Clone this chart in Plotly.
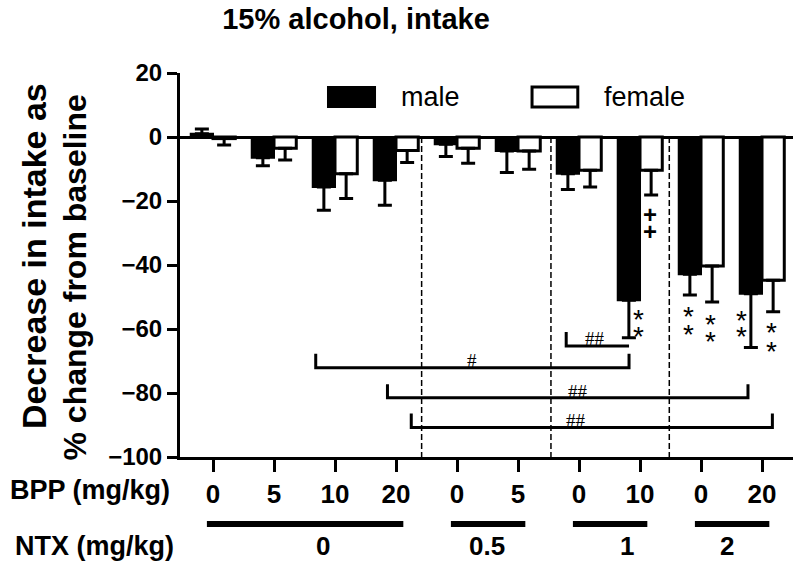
import plotly.graph_objects as go

# ---------------- data ----------------
bpp_labels = ["0", "5", "10", "20", "0", "5", "0", "10", "0", "20"]
ntx_labels = ["0", "0.5", "1", "2"]
ntx_groups = [(0, 3), (4, 5), (6, 7), (8, 9)]

male_vals = [1.0, -6.5, -15.6, -13.5, -2.3, -4.4, -11.5, -51.0, -42.9, -49.0]
male_err = [1.5, 2.5, 7.3, 7.8, 3.8, 6.7, 4.9, 11.7, 6.5, 16.8]
female_vals = [-0.5, -3.5, -11.5, -4.2, -3.5, -4.4, -10.4, -10.4, -40.3, -44.8]
female_err = [2.0, 3.7, 7.7, 3.8, 4.7, 5.7, 5.2, 7.7, 11.3, 9.8]

y_ticks = [20, 0, -20, -40, -60, -80, -100]

# ---------------- layout constants ----------------
FONT = "Liberation Sans, Arial, sans-serif"
SERIF = "Liberation Serif, Times New Roman, serif"
XR = [-0.541, 9.508]
YR = [-100, 20]
BARGAP = 0.27


def x2p(v):
    return (v - XR[0]) / (XR[1] - XR[0])


idx = list(range(len(bpp_labels)))


def err_dict(vals, errs):
    up = [e if v > 0 else 0 for v, e in zip(vals, errs)]
    dn = [e if v <= 0 else 0 for v, e in zip(vals, errs)]
    return dict(type="data", symmetric=False, array=up, arrayminus=dn,
                color="black", thickness=3, width=7)


fig = go.Figure()
fig.add_trace(go.Bar(x=idx, y=male_vals, name="male",
                     marker=dict(color="black", line=dict(color="black", width=2)),
                     error_y=err_dict(male_vals, male_err), showlegend=False))
fig.add_trace(go.Bar(x=idx, y=female_vals, name="female",
                     marker=dict(color="white", line=dict(color="black", width=3)),
                     error_y=err_dict(female_vals, female_err), showlegend=False))

shapes = []
annotations = []

# vertical dashed separators
for xv in [3.42, 5.54, 7.48]:
    shapes.append(dict(type="line", xref="x", yref="y", x0=xv, x1=xv, y0=0, y1=-100,
                       line=dict(color="black", width=1.5, dash="6px,3px")))

# comparison brackets: (x_left, x_right, y_line, tick_height, right_tick)
brackets = [
    (1.684, 6.82, -72.1, 4.4, True),
    (5.79, 6.82, -65.3, 4.4, False),
    (2.86, 8.77, -81.5, 4.2, True),
    (3.25, 9.17, -90.8, 4.4, True),
]
for xl, xr_, yl, th, rt in brackets:
    path = f"M {xl},{yl + th} L {xl},{yl} L {xr_},{yl}"
    if rt:
        path += f" L {xr_},{yl + th}"
    shapes.append(dict(type="path", xref="x", yref="y", path=path,
                       line=dict(color="black", width=3)))

hash_marks = [(4.24, -69.7, "#"), (6.26, -63.1, "##"), (5.98, -79.4, "##"), (5.95, -88.5, "##")]
for xv, yv, t in hash_marks:
    annotations.append(dict(x=xv, y=yv, xref="x", yref="y", text=t, showarrow=False,
                            font=dict(family=SERIF, size=19, color="black"),
                            xanchor="center", yanchor="middle"))

# significance stars
stars = [(6.98, -54.7), (6.98, -60.0), (7.80, -53.75), (7.80, -59.4),
         (8.16, -56.25), (8.16, -61.6), (8.67, -55.0), (8.67, -60.3),
         (9.16, -58.75), (9.16, -64.7)]
for xv, yv in stars:
    annotations.append(dict(x=xv, y=yv, xref="x", yref="y", text="*", showarrow=False,
                            font=dict(family=FONT, size=28, color="black"),
                            xanchor="center", yanchor="middle", yshift=-7))
for yv in [-24.1, -29.4]:
    annotations.append(dict(x=7.16, y=yv, xref="x", yref="y", text="+", showarrow=False,
                            font=dict(family=FONT, size=24, color="black", weight="bold"),
                            xanchor="center", yanchor="middle"))

# legend (drawn)
shapes.append(dict(type="rect", xref="x", yref="y", x0=1.885, x1=2.656, y0=9.4, y1=15.6,
                   fillcolor="black", line=dict(color="black", width=2)))
shapes.append(dict(type="rect", xref="x", yref="y", x0=5.23, x1=5.98, y0=9.4, y1=15.6,
                   fillcolor="white", line=dict(color="black", width=3)))
annotations.append(dict(x=3.05, y=12.5, xref="x", yref="y", text="male", showarrow=False,
                        font=dict(family=FONT, size=27, color="black"),
                        xanchor="left", yanchor="middle"))
annotations.append(dict(x=6.38, y=12.5, xref="x", yref="y", text="female", showarrow=False,
                        font=dict(family=FONT, size=27, color="black"),
                        xanchor="left", yanchor="middle"))

# NTX rows
ntx_label_x = [1.80, 4.49, 6.79, 8.43]
ntx_bar_y = -0.1745
for (g0, g1), lab, lx in zip(ntx_groups, ntx_labels, ntx_label_x):
    shapes.append(dict(type="line", xref="paper", yref="paper",
                       x0=x2p(g0 - 0.1), x1=x2p(g1 + 0.12), y0=ntx_bar_y, y1=ntx_bar_y,
                       line=dict(color="black", width=6)))
    annotations.append(dict(x=x2p(lx), y=-0.232, xref="paper", yref="paper", text=lab,
                            showarrow=False, xanchor="center", yanchor="middle",
                            font=dict(family=FONT, size=26, color="black", weight="bold")))

annotations.append(dict(x=-0.013, y=-0.086, xref="paper", yref="paper", text="BPP (mg/kg)",
                        showarrow=False, xanchor="right", yanchor="middle",
                        font=dict(family=FONT, size=27, color="black", weight="bold")))
annotations.append(dict(x=-0.0065, y=-0.232, xref="paper", yref="paper", text="NTX (mg/kg)",
                        showarrow=False, xanchor="right", yanchor="middle",
                        font=dict(family=FONT, size=27, color="black", weight="bold")))

# y-axis title (two rotated lines)
annotations.append(dict(x=-0.238, y=0.5234, xref="paper", yref="paper",
                        text="Decrease in intake as", textangle=-90, showarrow=False,
                        xanchor="center", yanchor="middle",
                        font=dict(family=FONT, size=34, color="black", weight="bold")))
annotations.append(dict(x=-0.1713, y=0.4674, xref="paper", yref="paper",
                        text="% change from baseline", textangle=-90, showarrow=False,
                        xanchor="center", yanchor="middle",
                        font=dict(family=FONT, size=32, color="black", weight="bold")))

fig.update_layout(
    width=800, height=564,
    margin=dict(l=180, r=7, t=73, b=107),
    paper_bgcolor="white", plot_bgcolor="white",
    barmode="group", bargap=BARGAP, bargroupgap=0,
    title=dict(text="15% alcohol, intake", x=0.445, xanchor="center",
               y=1 - 19 / 564, yanchor="middle",
               font=dict(family=FONT, size=29, color="black", weight="bold")),
    xaxis=dict(range=XR, tickvals=idx, ticktext=bpp_labels, showgrid=False,
               zeroline=False, showline=True, linecolor="black", linewidth=3,
               ticks="outside", ticklen=12, tickwidth=3, tickcolor="black",
               tickfont=dict(family=FONT, size=26, color="black", weight="bold")),
    yaxis=dict(range=YR, tickvals=y_ticks, showgrid=False,
               zeroline=True, zerolinecolor="black", zerolinewidth=3,
               showline=True, linecolor="black", linewidth=3,
               ticks="outside", ticklen=10, tickwidth=3, tickcolor="black",
               tickfont=dict(family=FONT, size=24, color="black", weight="bold")),
    shapes=shapes, annotations=annotations,
)

fig.write_html("out.html", config={"displayModeBar": False},
               post_script="document.body.style.margin='0px';document.body.style.overflow='hidden';")
